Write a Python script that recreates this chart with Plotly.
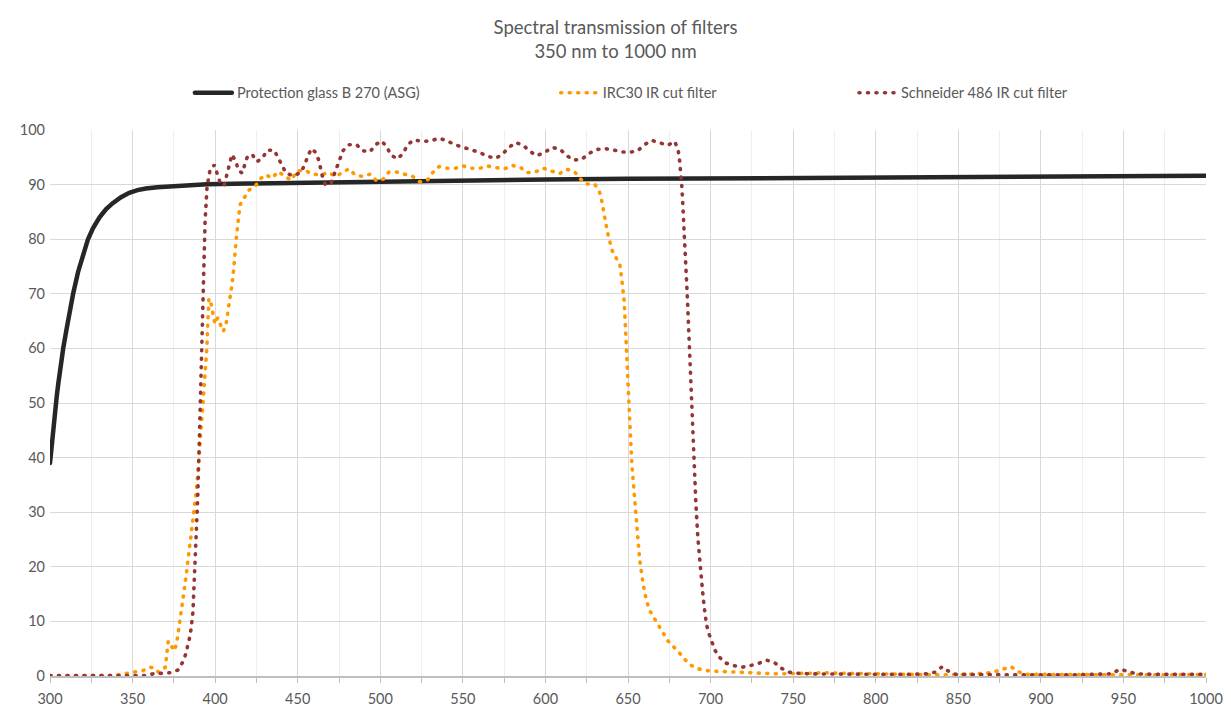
import plotly.graph_objects as go

# ---------------- data ----------------
glass_nm = [300, 301, 302, 303, 304, 305, 306, 308, 310, 312, 314, 317, 320, 323, 326, 330, 334, 338,
            343, 348, 353, 358, 365, 375, 385, 395, 420, 450, 480, 510, 530, 560, 600, 650, 700, 720,
            750, 780, 800, 820, 840, 845, 850, 880, 900, 930, 960, 1000]
glass_T = [39, 42.5, 45.5, 48.5, 51, 53.5, 56, 60, 63.5, 67, 70, 74, 77.2, 80, 82, 84, 85.5, 86.6,
           87.7, 88.5, 89, 89.3, 89.5, 89.7, 89.9, 90.05, 90.2, 90.35, 90.5, 90.65, 90.7, 90.85, 90.95,
           91.05, 91.15, 91.1, 91.2, 91.25, 91.2, 91.3, 91.35, 91.45, 91.3, 91.4, 91.45, 91.45, 91.5, 91.6]

irc30_nm = [300, 310, 320, 330, 340, 346.8, 351.9, 356.3, 360.6, 363, 365.8, 369.8, 370.4, 371, 371.6,
            372.7, 375.3, 376.7, 377.5, 378.3, 379.1, 379.9, 380.5, 381.1, 381.9, 382.5, 383.1, 384,
            384.6, 385.4, 386, 386.6, 387, 387.8, 388.5, 389.5, 390.5, 391.5, 392.5, 393.5, 394.5,
            394.9, 395.1, 395.3, 395.6, 395.8, 396.2, 396.9, 397.9, 398.9, 399.9, 401.5, 402.9, 404.9,
            406.6, 407.4, 408.2, 409, 409.6, 410.4, 411, 411.6, 412, 412.4, 412.8, 413.2, 413.7, 414.5,
            415.2, 417.9, 420.5, 424.3, 427.2, 430.4, 434.6, 438.1, 441.7, 445.9, 449.6, 454.4, 459,
            463.9, 468.7, 473, 477, 481, 484.7, 489.1, 493.8, 497.8, 501.8, 505.3, 509.9, 515, 519.6,
            524, 528.7, 531.7, 535.6, 540.5, 545.5, 550.4, 555.3, 560.4, 565.1, 570.1, 575.3, 579.9,
            584.7, 588.8, 593.8, 598.7, 603.6, 608.4, 612.9, 617.5, 621, 624.6, 629.8, 632.6, 633.9,
            635.7, 637.7, 640.4, 643.1, 645.1, 646.4, 647.6, 648.4, 649.2, 650.2, 651.3, 652.3, 653.5,
            654.6, 656, 657, 658.4, 660.1, 662.7, 668.2, 674, 680.9, 686, 690, 695, 700, 710, 720,
            725, 731, 740, 760, 768, 780, 800, 820, 840, 855, 862, 867, 872, 877, 882, 886, 891, 900,
            920, 950, 970, 1000]
irc30_T = [0, 0, 0, 0, 0.1, 0.5, 0.8, 1.0, 1.6, 1.5, 0.7, 1.6, 3.2, 4.8, 6.4,
           5.9, 4.6, 6.0, 7.6, 9.2, 10.7, 12.3, 13.9, 15.4, 17.1, 18.6, 20.1, 21.7,
           23.3, 24.9, 26.4, 28.1, 29.6, 31.2, 33.5, 37, 41, 45, 49, 52.5, 56.3,
           59.7, 61.2, 62.8, 65, 67.5, 69.1, 69.1, 67.5, 66, 64.5, 65.6, 64.5, 63.1,
           64.4, 65.9, 67.5, 69, 70.6, 72.2, 73.8, 75.4, 76.9, 78.6, 80.2, 81.7, 83.3, 84.8,
           86.4, 87.7, 89, 89.7, 91, 91.8, 91.2, 92.4, 91.6, 90.8, 92.5, 92.6, 91.9,
           91.8, 92.2, 91.5, 92.2, 92.9, 91.8, 91.5, 91.9, 90.7, 91.0, 92.3, 92.3, 91.8, 91.5,
           90.5, 90.9, 92.2, 93.3, 93.0, 93.0, 93.4, 93.0, 93.0, 93.4, 93.1, 92.9, 93.5,
           93.2, 92.2, 92.3, 93.0, 92.5, 92.0, 92.8, 92.4, 91.1, 90.1, 90.1, 88.8, 87.3,
           84.2, 81.1, 77.9, 76.5, 75.3, 72.2, 69.0, 64.2, 57.9, 51.5, 45.2, 38.9, 34.2,
           29.4, 24.6, 21.5, 18.4, 15.2, 12.2, 9.3, 6.5, 4.3, 2.5, 1.6, 1.1, 0.9, 0.8, 0.8,
           0.6, 0.5, 0.4, 0.5, 0.6, 0.5, 0.4, 0.4, 0.2, 0.3, 0.4, 0.5, 0.8, 1.2, 1.7, 0.8, 0.3, 0.3,
           0.2, 0.2, 0.2, 0.3]

schneider_nm = [300, 320, 340, 357.5, 362.6, 367.6, 372.7, 377.5, 380.1, 382.2, 383.6, 384.6, 385.4,
                386, 386.6, 387, 387.8, 388.4, 389, 389.4, 390.5, 391.5, 392.4, 393.9, 395.1, 395.9,
                396.9, 399.5, 401.3, 403, 405.4, 406.6, 407.8, 409, 410.2, 412.6, 414, 416.3, 418.1,
                419.5, 422.5, 425.3, 428.8, 431.4, 435.8, 438.3, 440.5, 442.9, 447.3, 451.8, 454.4,
                456, 458.4, 460.8, 462.7, 463.9, 465.1, 466.9, 470.3, 472, 473.6, 475.2, 477.4, 481,
                485.7, 489.3, 493.8, 497, 500.9, 504.1, 506.5, 510.5, 514, 516.5, 520.4, 525.4, 530.5,
                535.5, 540.6, 545.2, 549.9, 554.9, 560, 564.8, 569.9, 574.1, 577.8, 582, 586.6, 590.5,
                594.7, 599.5, 604, 608.8, 612.6, 616.7, 621.9, 625.9, 630.4, 635.5, 640.7, 645.6,
                650.8, 655.9, 659.9, 664.4, 669.4, 674.1, 678.3, 680.3, 681.1, 681.7, 682.1, 682.5,
                683.1, 683.7, 684.1, 684.9, 685.9, 687, 688, 689, 690.1, 691.1, 692.3, 693.5, 695.1,
                696.2, 697.6, 699.3, 700.9, 702.7, 705.5, 709, 714, 719, 724, 729, 734, 739, 743,
                747.5, 752.5, 760, 780, 800, 820, 831, 836, 840.3, 844, 848.6, 870, 900, 920, 940,
                943, 947.5, 952.4, 957.4, 970, 1000]
schneider_T = [0.1, 0.1, 0.1, 0.1, 0.4, 0.5, 0.6, 1.1, 2.4, 4.0, 5.5, 7.1, 8.6,
               10.2, 11.8, 15, 19.7, 24.4, 29.2, 32.2, 44, 56.3, 70.5, 83.2, 89.6, 91.1,
               92.7, 93.6, 92.1, 90.4, 89.8, 91.3, 92.9, 94.5, 95.5, 94.2, 92.7, 92.1, 93.6,
               95.1, 95.5, 94.2, 94.9, 96.3, 96.3, 94.9, 93.5, 92.1, 91.6, 92.2, 93.7,
               95.2, 96.6, 95.9, 94.5, 92.9, 91.3, 89.9, 90.4, 91.8, 93.1, 94.8, 96.2, 97.3,
               97.3, 96.2, 96.0, 97.3, 98.0, 96.8, 95.4, 94.7, 95.8, 97.3, 98.2, 97.9, 98.0,
               98.5, 98.0, 97.3, 96.8, 96.3, 95.9, 95.2, 94.8, 95.6, 96.8, 97.7, 97.2, 96.1,
               95.3, 95.9, 96.8, 96.5, 95.4, 94.5, 94.6, 95.6, 96.4, 96.6, 96.4, 96.0,
               95.9, 96.2, 97.3, 98.1, 97.7, 97.2, 97.9, 96.4, 94.9, 93.3, 91.7, 90.1,
               86.9, 83.8, 80.6, 77.5, 69.6, 61.7, 53.8, 45.7, 37.9, 31.6, 25.3, 20.5, 15.7,
               12.5, 9.3, 7.5, 6.0, 4.7, 3.4, 2.4, 1.9, 1.6, 1.9, 2.3, 2.9, 2.4, 1.4,
               0.7, 0.5, 0.4, 0.35, 0.3, 0.3, 0.4, 0.7, 1.7, 0.9, 0.3, 0.2, 0.2, 0.2, 0.3,
               0.4, 1.2, 0.9, 0.4, 0.3, 0.3]

series_names = ["Protection glass B 270 (ASG)", "IRC30 IR cut filter", "Schneider 486 IR cut filter"]
x_ticks = list(range(300, 1001, 50))
y_ticks = list(range(0, 101, 10))

# ---------------- figure ----------------
TXT = "#595959"
FONT = "Lato, 'Open Sans', sans-serif"
DOT = "1px,7.5px"

fig = go.Figure()
fig.add_trace(go.Scatter(x=glass_nm, y=glass_T, mode="lines", name=series_names[0],
                         line=dict(color="#262626", width=4.5), legend="legend", showlegend=True))
fig.add_trace(go.Scatter(x=irc30_nm, y=irc30_T, mode="lines", name=series_names[1],
                         line=dict(color="#FF9900", width=3.6, dash=DOT), legend="legend2",
                         showlegend=True))
fig.add_trace(go.Scatter(x=schneider_nm, y=schneider_T, mode="lines", name=series_names[2],
                         line=dict(color="#943634", width=3.6, dash=DOT), legend="legend3",
                         showlegend=True))

leg_common = dict(orientation="h", yanchor="middle", y=1.068, xanchor="left",
                  bgcolor="rgba(0,0,0,0)", font=dict(family=FONT, size=14.5, color=TXT),
                  itemwidth=37)

fig.update_layout(
    width=1231, height=706,
    showlegend=True,
    margin=dict(l=50, r=25, t=130, b=30, autoexpand=False),
    paper_bgcolor="white", plot_bgcolor="white",
    font=dict(family=FONT, size=14.5, color=TXT),
    title=dict(text="Spectral transmission of filters<br>350 nm to 1000 nm",
               x=0.5, xref="container", xanchor="center",
               y=1 - 33.5 / 706, yref="container", yanchor="middle",
               font=dict(family=FONT, size=18.5, color=TXT)),
    legend=dict(x=0.121, **leg_common),
    legend2=dict(x=0.4375, **leg_common),
    legend3=dict(x=0.6955, **leg_common),
    xaxis=dict(range=[300, 1000], tickvals=x_ticks, ticktext=[str(v) for v in x_ticks],
               showgrid=True, gridcolor="#d9d9d9", gridwidth=1,
               showline=True, linecolor="#bfbfbf", linewidth=2,
               ticks="", zeroline=False, ticklabelstandoff=9, automargin=False,
               minor=dict(dtick=25, tick0=0, showgrid=True, gridcolor="#efefef", gridwidth=1,
                          ticks="outside", ticklen=5, tickcolor="#bfbfbf", tickwidth=1),
               tickfont=dict(family=FONT, size=14.5, color=TXT)),
    yaxis=dict(range=[0, 100], tickvals=y_ticks, ticktext=[str(v) for v in y_ticks],
               showgrid=True, gridcolor="#d9d9d9", gridwidth=1,
               showline=False, ticks="", zeroline=False, ticklabelstandoff=4, automargin=False,
               tickfont=dict(family=FONT, size=14.5, color=TXT)),
)

post = """
document.body.style.margin='0';
function rc(){document.querySelectorAll('path.js-line').forEach(function(p){p.style.strokeLinecap='round';});}
rc(); setTimeout(rc, 50); setTimeout(rc, 300);
"""
fig.write_html("out.html", post_script=post, config={"displayModeBar": False})
